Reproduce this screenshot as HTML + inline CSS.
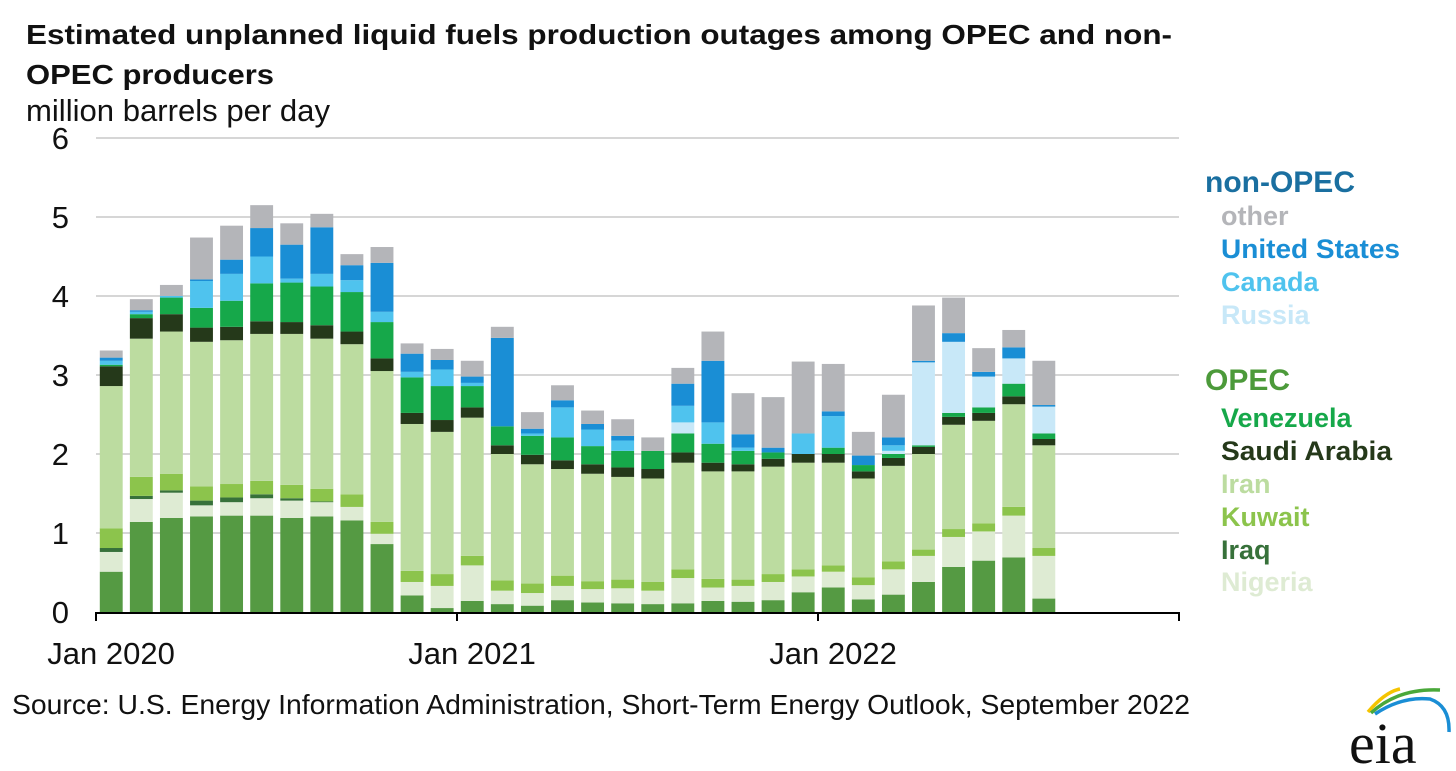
<!DOCTYPE html>
<html><head><meta charset="utf-8"><style>
body{margin:0;background:#fff;width:1456px;height:771px;overflow:hidden;font-family:"Liberation Sans",Arial,sans-serif}
svg{position:absolute;left:0;top:0}
</style></head><body>
<svg id="chart" width="1456" height="771">
<text x="26" y="44" font-size="28" font-weight="bold" fill="#111" textLength="1146" lengthAdjust="spacingAndGlyphs">Estimated unplanned liquid fuels production outages among OPEC and non-</text>
<text x="26" y="84" font-size="28" font-weight="bold" fill="#111" textLength="248" lengthAdjust="spacingAndGlyphs">OPEC producers</text>
<text x="26" y="121" font-size="31" fill="#111" textLength="304" lengthAdjust="spacingAndGlyphs">million barrels per day</text>
<g id="grid"></g><g id="bars"></g><g id="axes"></g>
<g font-weight="bold" font-size="27">
<text x="1205" y="192" font-size="30" fill="#1a6fa0">non-OPEC</text>
<text x="1221" y="225" fill="#b4b5b9">other</text>
<text x="1221" y="258" fill="#1a8ed5" textLength="179" lengthAdjust="spacingAndGlyphs">United States</text>
<text x="1221" y="291" fill="#4fc3ee">Canada</text>
<text x="1221" y="324" fill="#c8e8f8">Russia</text>
<text x="1205" y="390" font-size="30" fill="#4c9a3a">OPEC</text>
<text x="1221" y="427" fill="#16a84a">Venezuela</text>
<text x="1221" y="460" fill="#25391a" textLength="171" lengthAdjust="spacingAndGlyphs">Saudi Arabia</text>
<text x="1221" y="493" fill="#bcdca0">Iran</text>
<text x="1221" y="526" fill="#8cc44c">Kuwait</text>
<text x="1221" y="559" fill="#37713a">Iraq</text>
<text x="1221" y="591" fill="#deebd3">Nigeria</text>
</g>
<text x="12" y="714" font-size="28" fill="#111" textLength="1178" lengthAdjust="spacingAndGlyphs">Source: U.S. Energy Information Administration, Short-Term Energy Outlook, September 2022</text>
<g>
<path d="M1368 712 Q1385 692 1400 689" stroke="#f5c400" stroke-width="3.5" fill="none"/>
<path d="M1371 713 Q1398 688 1440 690" stroke="#4aa83a" stroke-width="3.5" fill="none"/>
<path d="M1375 714 Q1402 696 1430 699 Q1450 706 1449 732" stroke="#1a8ed5" stroke-width="3.5" fill="none"/>
<text x="1349" y="763" font-family="'Liberation Serif',serif" font-size="58" fill="#111">eia</text>
</g>
</svg>
<script>
const months = ["Jan 2020","Feb 2020","Mar 2020","Apr 2020","May 2020","Jun 2020","Jul 2020","Aug 2020","Sep 2020","Oct 2020","Nov 2020","Dec 2020","Jan 2021","Feb 2021","Mar 2021","Apr 2021","May 2021","Jun 2021","Jul 2021","Aug 2021","Sep 2021","Oct 2021","Nov 2021","Dec 2021","Jan 2022","Feb 2022","Mar 2022","Apr 2022","May 2022","Jun 2022","Jul 2022","Aug 2022"];
const libya = [0.51,1.14,1.19,1.21,1.22,1.22,1.19,1.21,1.16,0.86,0.21,0.05,0.14,0.10,0.08,0.15,0.12,0.11,0.10,0.11,0.14,0.13,0.15,0.25,0.31,0.16,0.22,0.38,0.57,0.65,0.69,0.17];
const nigeria = [0.25,0.29,0.32,0.14,0.17,0.22,0.22,0.18,0.17,0.13,0.17,0.28,0.45,0.17,0.16,0.18,0.17,0.19,0.17,0.32,0.17,0.20,0.23,0.20,0.20,0.18,0.32,0.33,0.38,0.37,0.53,0.54];
const iraq = [0.05,0.04,0.03,0.06,0.06,0.05,0.03,0.01,0,0,0,0,0,0,0,0,0,0,0,0,0,0,0,0,0,0,0,0,0,0,0,0];
const kuwait = [0.25,0.24,0.21,0.18,0.17,0.17,0.17,0.16,0.16,0.15,0.14,0.15,0.12,0.13,0.12,0.13,0.10,0.11,0.11,0.11,0.11,0.08,0.10,0.09,0.08,0.10,0.10,0.08,0.10,0.10,0.11,0.10];
const iran = [1.80,1.75,1.80,1.83,1.82,1.86,1.91,1.90,1.90,1.91,1.86,1.80,1.75,1.60,1.51,1.35,1.36,1.30,1.31,1.35,1.36,1.37,1.36,1.35,1.30,1.25,1.21,1.21,1.32,1.30,1.30,1.30];
const saudi = [0.25,0.26,0.22,0.18,0.17,0.16,0.15,0.17,0.16,0.16,0.14,0.15,0.13,0.11,0.12,0.11,0.12,0.12,0.12,0.13,0.11,0.09,0.10,0.11,0.11,0.09,0.10,0.09,0.10,0.10,0.10,0.08];
const venezuela = [0.02,0.05,0.21,0.25,0.33,0.48,0.50,0.49,0.50,0.46,0.45,0.43,0.27,0.24,0.24,0.29,0.23,0.21,0.23,0.24,0.24,0.17,0.08,0,0.08,0.08,0.05,0.02,0.05,0.07,0.16,0.07];
const russia = [0,0,0,0,0,0,0,0,0,0,0,0,0,0,0,0,0,0,0,0.14,0,0,0,0,0,0,0.04,1.05,0.90,0.39,0.32,0.34];
const canada = [0.05,0.03,0.02,0.34,0.34,0.34,0.05,0.16,0.15,0.13,0.07,0.21,0.04,0,0.03,0.38,0.21,0.13,0,0.21,0.27,0.04,0,0.26,0.40,0,0.07,0,0,0,0,0];
const unitedStates = [0.04,0.02,0,0.02,0.18,0.36,0.43,0.59,0.19,0.62,0.23,0.12,0.08,1.12,0.06,0.09,0.07,0.06,0,0.28,0.78,0.17,0.06,0,0.06,0.12,0.10,0.02,0.11,0.06,0.14,0.02];
const other = [0.09,0.14,0.14,0.53,0.43,0.29,0.27,0.17,0.14,0.20,0.13,0.14,0.20,0.14,0.21,0.19,0.17,0.21,0.17,0.20,0.37,0.52,0.64,0.91,0.60,0.30,0.54,0.70,0.45,0.30,0.22,0.56];
const yTicks = ["0","1","2","3","4","5","6"];
const xLabels = ["Jan 2020","Jan 2021","Jan 2022"];

const NS="http://www.w3.org/2000/svg";
const X0=96, X1=1179, Y0=612, YTOP=138, YMAX=6, NSLOTS=36;
const slot=(X1-X0)/NSLOTS;
const yScale=v=>Y0-(v/YMAX)*(Y0-YTOP);
const xScale=i=>X0+i*slot;
function mk(tag,attrs,parent){const e=document.createElementNS(NS,tag);for(const k in attrs)e.setAttribute(k,attrs[k]);parent.appendChild(e);return e;}
const grid=document.getElementById('grid'), bars=document.getElementById('bars'), axes=document.getElementById('axes');
yTicks.forEach((t,i)=>{
  const v=+t, y=yScale(v);
  if(v>0){const l=mk('line',{x1:X0,x2:X1,y1:y,y2:y,stroke:'#bdbdbd','stroke-width':1.3},grid);
  
  }
  const tx=mk('text',{x:69,y:y+11,'text-anchor':'end','font-size':31,fill:'#111'},axes);
  tx.textContent=t;
  
  
});
const series=[
 ['libya',libya,'#559a43'],['nigeria',nigeria,'#deebd3'],['iraq',iraq,'#37713a'],['kuwait',kuwait,'#8cc44c'],
 ['iran',iran,'#bcdca0'],['saudi-arabia',saudi,'#25391a'],['venezuela',venezuela,'#16a84a'],['russia',russia,'#c8e8f8'],
 ['canada',canada,'#4fc3ee'],['united-states',unitedStates,'#1a8ed5'],['other',other,'#b4b5b9']];
months.forEach((m,i)=>{
  let cum=0;
  const x=xScale(i)+3.8, w=slot-7.2;
  series.forEach(([name,arr,col])=>{
    const v=arr[i]; if(!v){return;}
    const y1=yScale(cum+v), y2=yScale(cum);
    const r=mk('rect',{x:x,y:y1,width:w,height:y2-y1,fill:col},bars);
    
    
    cum+=v;
  });
});
const ax=mk('line',{x1:X0,x2:X1,y1:Y0+1,y2:Y0+1,stroke:'#000','stroke-width':2},axes);


xLabels.forEach((t,k)=>{
  const i=k*12;
  const tk=mk('line',{x1:xScale(i),x2:xScale(i),y1:Y0,y2:Y0+9,stroke:'#000','stroke-width':2},axes);
  
  
  const tx=mk('text',{x:xScale(i)+slot/2,y:664,'text-anchor':'middle','font-size':31,fill:'#111'},axes);
  tx.textContent=t;
  
  
});
const tkEnd=mk('line',{x1:X1,x2:X1,y1:Y0,y2:Y0+9,stroke:'#000','stroke-width':2},axes);


</script>
</body></html>
